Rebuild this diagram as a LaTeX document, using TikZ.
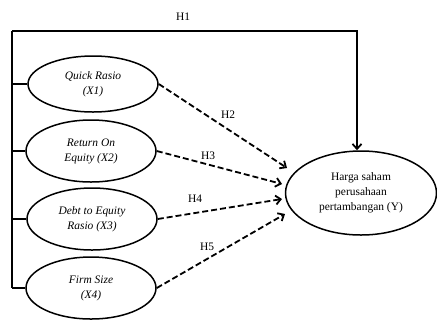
\documentclass[tikz,border=0pt]{standalone}
\usepackage{fontspec}
\setmainfont{Liberation Serif}
\usetikzlibrary{arrows.meta,shapes.geometric}
\begin{document}
\begin{tikzpicture}[x=1bp,y=-1bp,
  var/.style={ellipse,draw,line width=1.5bp,minimum width=130bp,minimum height=62bp,inner sep=0pt,align=center,font=\fontsize{11.5}{15}\selectfont\itshape},
  dep/.style={ellipse,draw,line width=1.5bp,minimum width=151bp,minimum height=84bp,inner sep=0pt,align=center,font=\fontsize{11.5}{15}\selectfont},
  solidline/.style={line width=1.8bp},
  dashline/.style={line width=1.8bp,dash pattern=on 6bp off 3bp,-{Straight Barb[length=5bp,width=9bp]}},
  hlab/.style={font=\fontsize{11.5}{12}\selectfont,inner sep=0pt}]
\useasboundingbox (0,0) rectangle (437,320);
\node[var,minimum height=56bp] (e1) at (93,84) {Quick Rasio\\(X1)};
\node[var] (e2) at (91,151) {Return On\\Equity (X2)};
\node[var] (e3) at (92,219) {Debt to Equity\\Rasio (X3)};
\node[var] (e4) at (91,288) {Firm Size\\(X4)};
\node[dep] (y) at (361,193) {Harga saham\\perusahaan\\pertambangan (Y)};
\coordinate (L0) at (12,31);
\coordinate (L4) at (12,288);
\coordinate (T) at (357,31);
\draw[solidline] (L0) -- (L4);
\draw[solidline] (e1.west) -- (e1.west -| L0);
\draw[solidline] (e2.west) -- (e2.west -| L0);
\draw[solidline] (e3.west) -- (e3.west -| L0);
\draw[solidline] (e4.west) -- (e4.west -| L0);
\draw[solidline,-{Straight Barb[length=5bp,width=9bp]}] (L0) -- (T) -- (y.north -| T);
\coordinate (a2) at (287,168);
\coordinate (a3) at (282,184);
\coordinate (a4) at (282,199);
\coordinate (a5) at (285,214);
\draw[dashline] (e1.east) -- (a2);
\draw[dashline] (e2.east) -- (a3);
\draw[dashline] (e3.east) -- (a4);
\draw[dashline] (e4.east) -- (a5);
\node[hlab] (h1) at (183,17) {H1};
\node[hlab] (h2) at (228,115) {H2};
\node[hlab] (h3) at (208,156) {H3};
\node[hlab] (h4) at (195,199) {H4};
\node[hlab] (h5) at (207,247) {H5};
\end{tikzpicture}
\end{document}
